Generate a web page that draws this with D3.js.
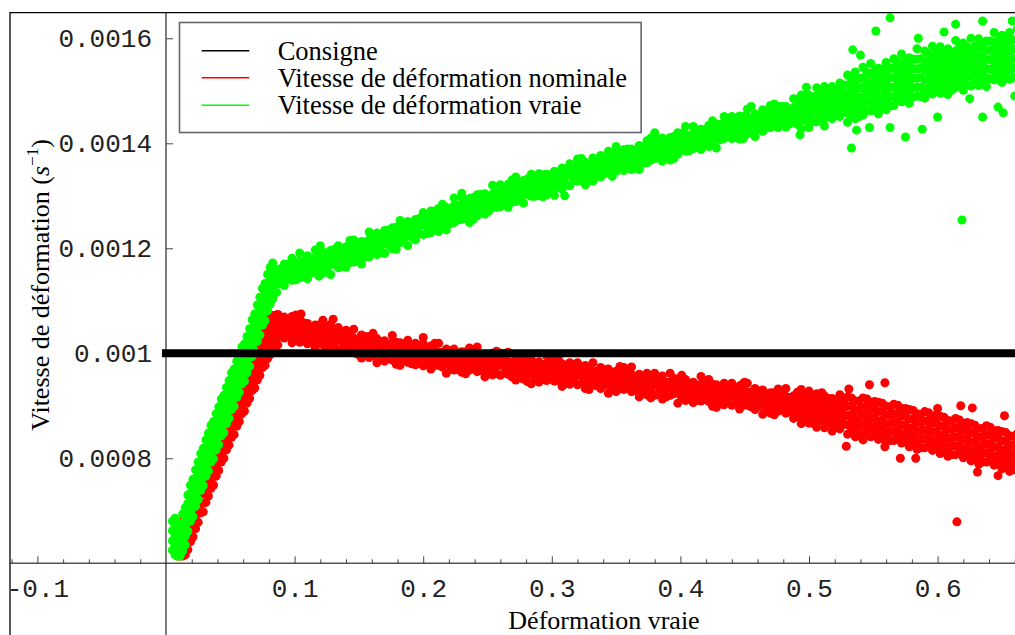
<!DOCTYPE html>
<html><head><meta charset="utf-8">
<script src="https://cdn.jsdelivr.net/npm/d3@7"></script>
<style>body{margin:0;background:#fff}svg{display:block}</style>
</head><body>
<svg id="c" width="1015" height="635"></svg>
<script>
// ---- data (x: true strain, y: strain rate in 1e-6 s^-1) ----
const xTicksMajor = [-0.1, 0.1, 0.2, 0.3, 0.4, 0.5, 0.6];
const xTickLabels = ["-0.1", "0.1", "0.2", "0.3", "0.4", "0.5", "0.6"];
const yTicks = [800, 1000, 1200, 1400, 1600];
const yTickLabels = ["0.0008", "0.001", "0.0012", "0.0014", "0.0016"];
const seriesNames = ["Consigne", "Vitesse de déformation nominale", "Vitesse de déformation vraie"];
const seriesColors = ["#000000", "#ff0000", "#00ff00"];
const consigneX = [0, 0.665];
const consigneY = [1000, 1000];

// columns: [x, y1, y2, ...]
const vraieRise = [
[.005,625,643,662,680],[.007,616,632,650,668,686],[.009,614,626,641,657,675],[.011,614,622,640,658,676],
[.013,624,644,660,677,694],[.015,635,652,670,688,706],[.017,661,679,697,714,730],[.019,680,698,716,733,749],
[.021,689,706,724,742,760],[.023,709,727,745,762,778],[.025,721,739,757,775,793],[.027,739,757,775,792,809],
[.029,748,765,783,801,819],[.031,766,784,802,819,835],[.033,776,794,812,830,848],[.035,793,811,829,846,863],
[.037,799,816,834,852,870],[.039,816,834,852,869,885],[.041,826,844,862,880,898],[.043,843,861,879,896,913],
[.045,849,866,884,902,920],[.047,866,884,902,919,935],[.049,876,894,912,930,948],[.051,893,911,929,946,963],
[.053,899,916,934,952,970],[.055,916,934,952,969,985],[.057,926,944,962,980,998],[.059,942,960,978,995,1012],
[.061,947,964,982,1000,1018],[.063,963,981,999,1016,1032],[.065,975,993,1011,1029,1047],[.067,994,1012,1030,1047,1064],
[.069,1004,1021,1039,1057,1075],[.071,1023,1041,1059,1076,1092],[.073,1035,1053,1071,1089,1107],
[.075,1054,1072,1090,1107,1124],[.077,1062,1079,1097,1115,1133],[.079,1081,1099,1117,1134,1150],
[.081,1094,1112,1130,1148,1164],[.083,1104,1122,1140,1157,1172]
];
const vraieMain = [
[.086,1116,1132,1146,1159],[.092,1129,1144,1160,1170],[.098,1139,1152,1168,1181],[.104,1144,1160,1176,1191],
[.110,1142,1160,1175,1186],[.116,1155,1167,1180,1197],[.122,1153,1165,1180,1193],[.128,1150,1170,1185,1196],
[.134,1163,1182,1195,1205],[.140,1164,1175,1189,1203],[.146,1174,1187,1203,1216],[.152,1170,1186,1200,1213],
[.158,1184,1200,1216,1231],[.164,1188,1203,1219,1229],[.170,1190,1208,1223,1234],[.176,1199,1211,1226,1239],
[.182,1211,1223,1236,1253],[.188,1205,1225,1240,1251],[.194,1216,1227,1241,1255],[.200,1226,1245,1258,1268],
[.206,1230,1245,1261,1271],[.212,1232,1250,1265,1276],[.218,1235,1251,1265,1278],[.224,1249,1265,1281,1296],
[.230,1255,1268,1284,1297],[.236,1249,1269,1284,1295],[.242,1262,1274,1289,1302],[.248,1265,1276,1290,1304],
[.254,1278,1290,1303,1320],[.260,1279,1298,1311,1321],[.266,1278,1296,1311,1322],[.272,1289,1305,1321,1336],
[.278,1286,1302,1316,1329],[.284,1299,1312,1328,1341],[.290,1301,1316,1332,1342],[.296,1302,1313,1327,1341],
[.302,1301,1321,1336,1347],[.308,1313,1325,1340,1353],[.314,1319,1338,1351,1361],[.320,1328,1340,1353,1370],
[.326,1321,1337,1351,1364],[.332,1328,1346,1361,1372],[.338,1336,1351,1367,1377],[.344,1343,1356,1372,1385],
[.350,1347,1363,1379,1394],[.356,1348,1360,1375,1388],[.362,1350,1361,1375,1389],[.368,1350,1370,1385,1396],
[.374,1363,1382,1395,1405],[.380,1371,1383,1396,1413],[.386,1366,1384,1399,1410],[.392,1368,1384,1398,1411],
[.398,1379,1394,1410,1420],[.404,1385,1401,1417,1432],[.410,1390,1403,1419,1432],[.416,1388,1399,1413,1427],
[.422,1394,1406,1421,1434],[.428,1391,1411,1426,1437],[.434,1409,1421,1434,1451],[.440,1409,1428,1441,1451],
[.446,1408,1426,1441,1452],[.452,1418,1434,1450,1465],[.458,1413,1429,1443,1456],[.464,1423,1438,1454,1464],
[.470,1430,1443,1459,1472],[.476,1430,1442,1457,1470],[.482,1431,1442,1456,1470],[.488,1443,1455,1468,1485],
[.494,1428,1444,1460,1476,1492],[.500,1430,1446,1460,1476,1492],[.506,1441,1459,1474,1490,1506],
[.512,1447,1461,1477,1492,1508],[.518,1447,1464,1480,1492,1508],[.524,1451,1467,1483,1499,1515],
[.530,1440,1457,1475,1493,1511,1530],[.536,1447,1464,1482,1500,1518,1536],[.542,1454,1472,1489,1507,1525,1545],
[.548,1462,1479,1496,1514,1532,1552],[.554,1456,1472,1490,1508,1526,1543],[.560,1464,1481,1499,1517,1535,1554],
[.566,1472,1489,1507,1525,1543,1561],[.572,1479,1497,1514,1532,1550,1570],[.578,1476,1492,1510,1528,1546,1563],
[.584,1490,1507,1524,1542,1560,1580],[.590,1486,1503,1521,1539,1557,1576],[.596,1494,1512,1529,1547,1565,1585],
[.602,1495,1512,1530,1548,1566,1584],[.608,1493,1509,1527,1545,1563,1580],[.614,1506,1523,1540,1558,1576,1596],
[.620,1501,1518,1536,1554,1572,1591],[.626,1509,1527,1544,1562,1580,1600],[.632,1510,1527,1545,1563,1581,1599],
[.638,1508,1524,1542,1560,1578,1595],[.644,1521,1538,1555,1573,1591,1611],[.650,1516,1533,1551,1569,1587,1606],
[.656,1522,1539,1557,1575,1593,1611],[.662,1527,1545,1562,1580,1598,1618]
];
const vraieMid = [
[.089,1132,1147,1161],[.095,1141,1156,1170],[.101,1140,1153,1168],[.107,1147,1161,1175],[.113,1153,1167,1181],
[.119,1147,1160,1175,1189],[.125,1162,1177,1191],[.131,1169,1184,1198],[.137,1165,1178,1193],[.143,1173,1187,1201,1215],
[.149,1176,1190,1204],[.155,1184,1198,1212],[.161,1191,1206,1220],[.167,1192,1205,1220],[.173,1206,1221,1235],
[.179,1198,1211,1226,1240],[.185,1212,1226,1240],[.191,1221,1235,1249],[.197,1228,1243,1257],[.203,1228,1241,1256],
[.209,1242,1257,1271],[.215,1242,1256,1270,1284],[.221,1247,1261,1275],[.227,1254,1268,1282],[.233,1260,1275,1289],
[.239,1255,1268,1283,1297],[.245,1274,1289,1303],[.251,1271,1284,1299],[.257,1278,1292,1306],[.263,1285,1299,1313],
[.269,1288,1302,1316,1330],[.275,1295,1310,1324],[.281,1303,1318,1332],[.287,1299,1312,1327],[.293,1298,1311,1326,1340],
[.299,1310,1324,1338],[.305,1316,1330,1344],[.311,1322,1337,1351],[.317,1329,1344,1358],[.323,1329,1343,1357,1371],
[.329,1330,1343,1358],[.335,1337,1351,1365],[.341,1343,1357,1371],[.347,1337,1350,1365,1379],[.353,1353,1368,1382],
[.359,1360,1375,1389],[.365,1356,1369,1384],[.371,1363,1377,1391],[.377,1368,1382,1396,1410],[.383,1373,1387,1401],
[.389,1378,1393,1407],[.395,1371,1384,1399,1413],[.401,1390,1405,1419],[.407,1386,1399,1414],[.413,1392,1406,1420],
[.419,1398,1412,1426],[.425,1401,1415,1429,1443],[.431,1407,1422,1436],[.437,1415,1430,1444],[.443,1411,1424,1439],
[.449,1409,1422,1437,1451],[.455,1420,1434,1448],[.461,1426,1440,1454],[.467,1431,1446,1460],[.473,1433,1447,1461,1475],
[.479,1441,1456,1470],[.485,1437,1450,1465],[.491,1436,1452,1468,1484],[.497,1444,1460,1475,1491],[.503,1441,1457,1473,1488],
[.509,1449,1465,1481,1497],[.515,1457,1473,1488,1504],[.521,1455,1471,1487,1502],[.527,1463,1479,1495,1511],
[.533,1450,1468,1486,1504,1522],[.539,1451,1469,1487,1505,1523],[.545,1463,1481,1499,1517,1535],[.551,1466,1484,1502,1520,1538],
[.557,1469,1487,1505,1523,1541],[.563,1471,1489,1507,1525,1543],[.569,1483,1501,1519,1537,1555],[.575,1486,1504,1522,1540,1558],
[.581,1488,1506,1524,1542,1560],[.587,1489,1507,1525,1543,1561],[.593,1499,1517,1535,1553,1571],[.599,1500,1518,1536,1554,1572],
[.605,1501,1519,1537,1555,1573],[.611,1501,1519,1537,1555,1573],[.617,1511,1529,1547,1565,1583],[.623,1512,1530,1548,1566,1584],
[.629,1513,1531,1549,1567,1585],[.635,1513,1531,1549,1567,1585],[.641,1523,1541,1559,1577,1595],[.647,1524,1542,1560,1578,1596],
[.653,1525,1543,1561,1579,1597],[.659,1525,1543,1561,1579,1597]
];
const vraieOut = [
[.563,1639],[.552,1614],[.635,1633],[.658,1633],[.614,1627],[.533,1391],[.575,1412],[.588,1427],
[.635,1450],[.651,1458],[.547,1430],[.563,1430],[.512,1433],[.493,1416],[.537,1425],[.647,1469],
[.600,1450],[.498,1507],[.534,1578],[.540,1568],[.619,1254],[.455,1470],[.380,1420],[.230,1305],
[.310,1300],[.120,1205],[.585,1600],[.605,1612],[.625,1485],[.660,1490]
];
const nominaleRise = [
[.009,614,622,634,648],[.011,614,624,638,654,668],[.013,614,628,646,664,680],[.015,616,634,652,669,685],
[.017,626,644,662,680,698],[.019,641,659,677,694,710],[.021,650,667,685,703,721],[.023,666,684,702,719,735],
[.025,678,696,714,732,750],[.027,696,714,732,749,765],[.029,698,715,733,751,769],[.031,716,734,752,769,785],
[.033,728,746,764,782,800],[.035,743,761,779,796,813],[.037,749,766,784,802,820],[.039,766,784,802,819,835],
[.041,777,795,813,831,849],[.043,793,811,829,846,863],[.045,800,817,835,853,871],[.047,816,834,852,869,885],
[.049,825,843,861,879,897],[.051,840,858,876,893,910],[.053,845,862,880,898,916],[.055,861,879,897,914,930],
[.057,870,888,906,924,942],[.059,885,903,921,938,955],[.061,890,907,925,943,961],[.063,905,923,941,958,974],
[.065,914,932,950,968,986],[.067,929,947,965,982,999],[.069,934,951,969,987,1005],[.071,949,967,985,1002,1018],
[.073,958,976,994,1012,1030],[.075,973,991,1009,1026,1043],[.077,977,994,1012,1030,1048],[.079,990,1008,1026,1043,1059],
[.081,997,1015,1033,1051,1069],[.083,1007,1025,1043,1060,1072],[.085,1008,1023,1041,1059,1070],[.087,1016,1032,1050,1066,1074]
];
const nominaleMain = [
[.086,1031,1043,1056,1073],[.092,1029,1041,1056,1069],[.098,1020,1040,1055,1066],[.104,1021,1039,1054,1065],
[.110,1018,1029,1043,1057],[.116,1011,1027,1041,1054],[.122,1016,1032,1048,1063],[.128,1013,1026,1042,1055],
[.134,1007,1026,1039,1049],[.140,1003,1018,1034,1044],[.146,1004,1016,1029,1046],[.152,991,1009,1024,1035],
[.158,992,1004,1019,1032],[.164,982,1002,1017,1028],[.170,985,996,1010,1024],[.176,987,1003,1019,1034],
[.182,977,993,1007,1020],[.188,983,996,1012,1025],[.194,978,993,1009,1019],[.200,976,995,1008,1018],
[.206,970,988,1003,1014],[.212,977,989,1002,1019],[.218,962,982,997,1008],[.224,968,980,995,1008],
[.230,964,975,989,1003],[.236,968,981,997,1010],[.242,965,981,997,1012],[.248,955,971,985,998],
[.254,959,974,990,1000],[.260,958,977,990,1000],[.266,960,972,985,1002],[.272,949,967,982,993],
[.278,951,963,978,991],[.284,942,962,977,988],[.290,945,956,970,984],[.296,948,964,980,995],
[.302,947,960,976,989],[.308,937,953,967,980],[.314,941,956,972,982],[.320,940,959,972,982],
[.326,933,951,966,977],[.332,940,952,965,982],[.338,933,945,960,973],[.344,924,944,959,970],
[.350,927,938,952,966],[.356,931,944,960,973],[.362,927,943,959,974],[.368,917,933,947,960],
[.374,921,936,952,962],[.380,920,939,952,962],[.386,913,931,946,957],[.392,920,932,945,962],
[.398,905,925,940,951],[.404,910,922,937,950],[.410,906,917,931,945],[.416,909,925,941,956],
[.422,908,921,937,950],[.428,897,913,927,940],[.434,902,917,933,943],[.440,901,920,933,943],
[.446,894,912,927,938],[.452,901,913,926,943],[.458,893,905,920,933],[.464,884,904,919,930],
[.470,886,897,911,925],[.476,890,903,919,932],[.482,886,902,918,933],[.488,876,892,906,919],
[.494,866,884,899,915,931],[.500,867,881,897,912,928],[.506,859,875,891,907,923],[.512,858,875,891,903,919],
[.518,852,868,882,898,914],[.524,856,874,889,905,921],[.530,846,864,881,899,917],[.536,841,858,875,892,909],
[.542,846,863,880,897,915],[.548,841,858,876,893,907],[.554,836,854,871,889,907],[.560,831,848,865,882,899],
[.566,834,851,868,885,903],[.572,829,846,864,881,895],[.578,822,840,857,875,893],[.584,817,834,851,868,885],
[.590,820,837,854,871,889],[.596,815,832,850,867,881],[.602,809,827,844,862,880],[.608,804,821,838,855,872],
[.614,807,824,841,858,876],[.620,801,818,836,853,867],[.626,795,813,830,848,866],[.632,789,806,823,840,857],
[.638,793,810,827,844,862],[.644,787,804,822,839,853],[.650,780,798,815,833,851],[.656,775,792,809,826,843],
[.662,778,795,812,829,847]
];
const nominaleMid = [
[.089,1033,1047,1061],[.095,1032,1046,1060],[.101,1031,1045,1059,1073],[.107,1029,1044,1058],[.113,1020,1033,1048],
[.119,1025,1040,1054],[.125,1007,1020,1035,1049],[.131,1013,1027,1041],[.137,1008,1022,1036],[.143,1007,1022,1036],
[.149,998,1011,1026],[.155,1003,1018,1032],[.161,996,1010,1024,1038],[.167,994,1008,1022],[.173,990,1004,1018],
[.179,979,992,1007,1021],[.185,988,1003,1017],[.191,980,993,1008],[.197,986,1001,1015],[.203,980,994,1008],
[.209,977,991,1005,1019],[.215,974,988,1002],[.221,976,991,1005],[.227,969,982,997],[.233,961,974,989,1003],
[.239,973,988,1002],[.245,967,981,995],[.251,963,977,991],[.257,962,976,990,1004],[.263,962,977,991],
[.269,955,968,983],[.275,962,977,991],[.281,946,959,974,988],[.287,954,968,982],[.293,950,964,978],
[.299,951,966,980],[.305,948,962,976,990],[.311,943,956,971],[.317,949,964,978],[.323,943,957,971],
[.329,931,944,959,973],[.335,938,952,966],[.341,939,954,968],[.347,932,945,960],[.353,933,947,961,975],
[.359,936,951,965],[.365,929,943,957],[.371,925,939,953],[.377,915,928,943,957],[.383,924,939,953],
[.389,917,930,945],[.395,923,938,952],[.401,916,930,944,958],[.407,915,929,943],[.413,911,925,939],
[.419,912,927,941],[.425,899,912,927,941],[.431,904,917,932],[.437,910,925,939],[.443,904,918,932],
[.449,901,915,929,943],[.455,898,912,926],[.461,899,914,928],[.467,892,905,920],[.473,883,896,911,925],
[.479,895,910,924],[.485,888,902,916],[.491,879,895,910,926],[.497,872,888,904,920],[.503,867,883,899,914],
[.509,872,888,903,919],[.515,866,882,898,914],[.521,860,876,892,907],[.527,865,881,896,912],
[.533,851,867,883,899,915],[.539,845,861,877,893,909],[.545,850,866,882,898,913],[.551,845,861,877,893,908],
[.557,841,857,873,889,905],[.563,834,850,866,882,898],[.569,838,854,870,886,901],[.575,832,848,864,880,895],
[.581,827,843,859,875,891],[.587,820,836,852,868,884],[.593,824,840,856,872,887],[.599,819,835,851,867,882],
[.605,814,830,846,862,878],[.611,807,823,839,855,871],[.617,810,826,842,858,873],[.623,805,821,837,853,868],
[.629,799,815,831,847,863],[.635,793,809,825,841,857],[.641,796,812,828,844,859],[.647,790,806,822,838,853],
[.653,785,801,817,833,849],[.659,778,794,810,826,842]
];
const nominaleOut = [
[.547,940],[.559,944],[.615,679],[.529,823],[.571,800],[.583,800],[.631,774],[.647,767],[.618,900],
[.627,896],[.652,881],[.531,932],[.542,835],[.559,822],[.510,925],[.600,895],[.660,790],[.450,945],
[.300,990],[.200,1030],[.130,1065],[.105,1075],[.098,1070]
];

// ---- drawing ----
const W = 1015, H = 635;
const svg = d3.select("#c");
const x = d3.scaleLinear().domain([0, 0.6]).range([166, 937.6]);
const y = d3.scaleLinear().domain([600, 1600]).range([563.3, 38.3]);
const frameL = 10, frameT = 12.7, R = 4.5;

svg.append("defs").append("clipPath").attr("id", "clip")
  .append("rect").attr("x", frameL).attr("y", frameT).attr("width", W).attr("height", H);

const toPts = cols => cols.flatMap(c => c.slice(1).map(v => [c[0], v]));
const nomPts = toPts(nominaleRise).concat(toPts(nominaleMain), toPts(nominaleMid), nominaleOut);
const vraiPts = toPts(vraieRise).concat(toPts(vraieMain), toPts(vraieMid), vraieOut);

// x axis (ticks upward, labels below)
const x0 = x(0), yBase = y(600);
const xMinor = d3.range(-0.12, 0.67, 0.02).map(v => +v.toFixed(2))
  .filter(v => Math.abs(v * 10 - Math.round(v * 10)) > 1e-6);
const gx = svg.append("g").attr("transform", `translate(0,${yBase})`);
gx.append("line").attr("x1", frameL).attr("x2", W).attr("y1", 0).attr("y2", 0)
  .attr("stroke", "#555").attr("stroke-width", 1.4);
const gxMin = gx.append("g").call(d3.axisBottom(x).tickValues(xMinor).tickSizeInner(-4).tickSizeOuter(0).tickFormat(""));
const gxMaj = gx.append("g").call(d3.axisBottom(x).tickValues(xTicksMajor).tickSizeInner(-7).tickSizeOuter(0)
  .tickPadding(15.5).tickFormat((d, i) => xTickLabels[i]));
[gxMin, gxMaj].forEach(g => { g.select(".domain").remove(); g.selectAll("line").attr("stroke", "#444").attr("stroke-width", 1); });
gxMaj.selectAll("text").attr("font-family", "'Liberation Mono', monospace").attr("font-size", 26).attr("fill", "#222");

// y axis
const gy = svg.append("g").attr("transform", `translate(${x0},0)`);
gy.append("line").attr("x1", 0).attr("x2", 0).attr("y1", frameT).attr("y2", H).attr("stroke", "#111").attr("stroke-width", 1.1);
const gyA = gy.append("g").call(d3.axisLeft(y).tickValues(yTicks).tickSizeInner(-7).tickSizeOuter(0)
  .tickPadding(14).tickFormat((d, i) => yTickLabels[i]));
gyA.select(".domain").remove();
gyA.selectAll("line").attr("stroke", "#444").attr("stroke-width", 1);
gyA.selectAll("text").attr("font-family", "'Liberation Mono', monospace").attr("font-size", 26).attr("fill", "#222");

// points
const pts = svg.append("g").attr("clip-path", "url(#clip)");
pts.append("g").selectAll("circle").data(nomPts).join("circle")
  .attr("cx", d => x(d[0])).attr("cy", d => y(d[1])).attr("r", R).attr("fill", seriesColors[1]);
pts.append("g").selectAll("circle").data(vraiPts).join("circle")
  .attr("cx", d => x(d[0])).attr("cy", d => y(d[1])).attr("r", R).attr("fill", seriesColors[2]);

// consigne
pts.append("path").datum(consigneX.map((v, i) => [v, consigneY[i]]))
  .attr("d", d3.line().x(d => x(d[0])).y(d => y(d[1])))
  .attr("stroke", seriesColors[0]).attr("stroke-width", 8).attr("stroke-linecap", "square").attr("fill", "none");

// frame
svg.append("path").attr("d", `M${frameL},${H}V${frameT}H${W}`).attr("fill", "none").attr("stroke", "#000").attr("stroke-width", 1.3);

// legend
const lg = svg.append("g");
const box = lg.append("rect").attr("x", 179.5).attr("y", 22.5).attr("height", 110)
  .attr("fill", "#fff").attr("stroke", "#666").attr("stroke-width", 1.6);
const rowY = [50.7, 77.7, 105.3];
let maxR = 0;
seriesNames.forEach((n, i) => {
  lg.append("line").attr("x1", 201.7).attr("x2", 249.3).attr("y1", rowY[i]).attr("y2", rowY[i])
    .attr("stroke", seriesColors[i]).attr("stroke-width", 1.6);
  const t = lg.append("text").attr("x", 277.7).attr("y", rowY[i] + 9)
    .attr("font-family", "'Liberation Serif', serif").attr("font-size", 26.5).attr("fill", "#000").text(n);
  const bb = t.node().getBBox(); maxR = Math.max(maxR, bb.x + bb.width);
});
box.attr("width", maxR + 14 - 179.5);

// axis titles
svg.append("text").attr("x", 604).attr("y", 629).attr("text-anchor", "middle")
  .attr("font-family", "'Liberation Serif', serif").attr("font-size", 26).text("Déformation vraie");
const yl = svg.append("text").attr("transform", "translate(49,285) rotate(-90)").attr("text-anchor", "middle")
  .attr("font-family", "'Liberation Serif', serif").attr("font-size", 26);
yl.append("tspan").text("Vitesse de déformation (");
yl.append("tspan").attr("font-style", "italic").text("s");
yl.append("tspan").attr("font-size", 17).attr("dy", -11).text("−1");
yl.append("tspan").attr("dy", 11).text(")");
</script>
</body></html>
